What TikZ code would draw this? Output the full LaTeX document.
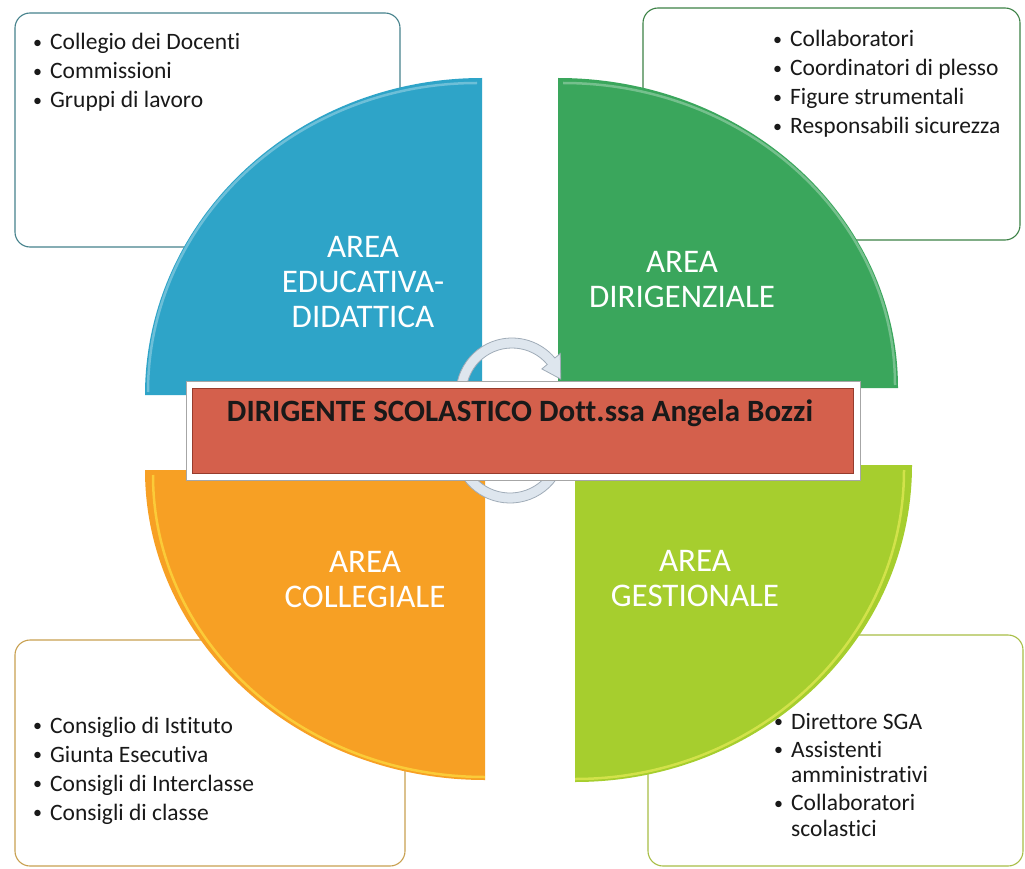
\documentclass[tikz,border=0pt]{standalone}
\usepackage{fontspec}
\setmainfont[Ligatures={NoCommon,NoRare,NoContextual}]{Carlito}
\newcommand\bulletdot{{\fontsize{18}{18}\selectfont\raisebox{1.2pt}{•}}}
\definecolor{secblue}{RGB}{46,164,200}
\definecolor{secgreen}{RGB}{58,166,92}
\definecolor{secorange}{RGB}{247,160,36}
\definecolor{seclime}{RGB}{166,206,46}
\definecolor{bannerred}{RGB}{212,96,76}
\definecolor{bannerdark}{RGB}{150,60,45}
\definecolor{ringfill}{RGB}{222,230,238}
\definecolor{ringline}{RGB}{160,172,184}
\definecolor{tlline}{RGB}{70,130,140}
\definecolor{trline}{RGB}{60,130,70}
\definecolor{blline}{RGB}{200,160,80}
\definecolor{brline}{RGB}{168,190,70}
\definecolor{txt}{RGB}{25,25,25}
\begin{document}
\begin{tikzpicture}[x=1pt,y=1pt,
  infobox/.style={draw=#1, line width=1.1pt, rounded corners=15pt, fill=white, inner sep=0pt},
  listtext/.style={inner sep=0pt, text=txt, font=\fontsize{23.5}{29}\selectfont, anchor=base west},
  arealabel/.style={inner sep=0pt, text=white, align=center, font=\fontsize{33}{35}\selectfont},
  ring/.style={fill=ringfill, draw=ringline, line width=0.8pt}
]
\useasboundingbox (0,0) rectangle (1025,-869);
\fill[white] (0,0) rectangle (1025,-869);

% corner boxes
\node[infobox=tlline, minimum width=385pt, minimum height=234pt] (tlbox) at (207.5,-130) {};
\node[infobox=trline, minimum width=377pt, minimum height=232pt] (trbox) at (831.5,-124) {};
\node[infobox=blline, minimum width=390pt, minimum height=226pt] (blbox) at (210,-753) {};
\node[infobox=brline, minimum width=375pt, minimum height=231pt] (brbox) at (835.5,-750.5) {};

% lists
\node[listtext] (tltext) at (33,-50) {\begin{tabular}[t]{@{}l@{\hspace{8pt}}l@{}}
\bulletdot & Collegio dei Docenti\\ \bulletdot & Commissioni\\ \bulletdot & Gruppi di lavoro\end{tabular}};
\node[listtext] (trtext) at (773,-47) {\begin{tabular}[t]{@{}l@{\hspace{8pt}}l@{}}
\bulletdot & Collaboratori\\ \bulletdot & Coordinatori di plesso\\ \bulletdot & Figure strumentali\\ \bulletdot & Responsabili sicurezza\end{tabular}};
\node[listtext] (bltext) at (33,-733) {\begin{tabular}[t]{@{}l@{\hspace{8pt}}l@{}}
\bulletdot & Consiglio di Istituto\\ \bulletdot & Giunta Esecutiva\\ \bulletdot & Consigli di Interclasse\\ \bulletdot & Consigli di classe\end{tabular}};
\node[listtext, font=\fontsize{23.5}{25.5}\selectfont] (brtext) at (774,-729) {\begin{tabular}[t]{@{}l@{\hspace{8pt}}l@{}}
\bulletdot & Direttore SGA\\[2.5pt] \bulletdot & Assistenti\\ & amministrativi\\[2.5pt] \bulletdot & Collaboratori\\ & scolastici\end{tabular}};

% sectors
\fill[secblue] (482,-395) -- (482,-78) arc[start angle=90, end angle=180, x radius=337pt, y radius=317pt] -- cycle;
\fill[secgreen] (558,-388) -- (558,-78) arc[start angle=90, end angle=0, x radius=340pt, y radius=310pt] -- cycle;
\fill[secorange] (485,-470) -- (145,-470) arc[start angle=180, end angle=270, x radius=340pt, y radius=310pt] -- cycle;
\fill[seclime] (575,-465) -- (912,-465) arc[start angle=0, end angle=-90, x radius=337pt, y radius=317pt] -- cycle;

% bevel highlights
\draw[white, opacity=0.3, line width=2.5pt] (477,-83) arc[start angle=90, end angle=180, x radius=329pt, y radius=309pt];
\draw[white, opacity=0.3, line width=2.5pt] (563,-83) arc[start angle=90, end angle=0, x radius=332pt, y radius=302pt];
\draw[yellow!70!white, opacity=0.5, line width=2.5pt] (153,-475) arc[start angle=180, end angle=270, x radius=332pt, y radius=302pt];
\draw[yellow!60!white, opacity=0.5, line width=2.5pt] (904,-470) arc[start angle=0, end angle=-90, x radius=329pt, y radius=309pt];

% labels
\node[arealabel] (edu) at (363,-282) {AREA\\EDUCATIVA-\\DIDATTICA};
\node[arealabel] (dir) at (682,-280) {AREA\\DIRIGENZIALE};
\node[arealabel] (col) at (365,-580) {AREA\\COLLEGIALE};
\node[arealabel] (ges) at (695,-579) {AREA\\GESTIONALE};

% circular arrows
\begin{scope}[shift={(512,-394)}]
\path[ring] (195:56pt) arc[start angle=195, end angle=40, radius=56pt] -- (40:63pt) -- (17:51pt) -- (40:39pt) -- (40:46pt) arc[start angle=40, end angle=195, radius=46pt] -- cycle;
\end{scope}
\begin{scope}[shift={(510,-446)}]
\path[ring] (15:57pt) arc[start angle=15, end angle=-160, radius=57pt] -- (-160:64pt) -- (-183:52pt) -- (-160:40pt) -- (-160:47pt) arc[start angle=-160, end angle=15, radius=47pt] -- cycle;
\end{scope}

% banner
\node[draw=gray!70, fill=white, line width=0.8pt, minimum width=674pt, minimum height=99pt, inner sep=0pt] (frame) at (523,-430.5) {};
\node[draw=bannerdark, fill=bannerred, line width=1pt, minimum width=661pt, minimum height=85pt, inner sep=0pt] (banner) at (522.5,-430.5) {};
\node[inner sep=0pt, text=txt, font=\bfseries\fontsize{31}{36}\selectfont] (dirigente) at (520,-413) {DIRIGENTE SCOLASTICO Dott.ssa Angela Bozzi};
\end{tikzpicture}
\end{document}
